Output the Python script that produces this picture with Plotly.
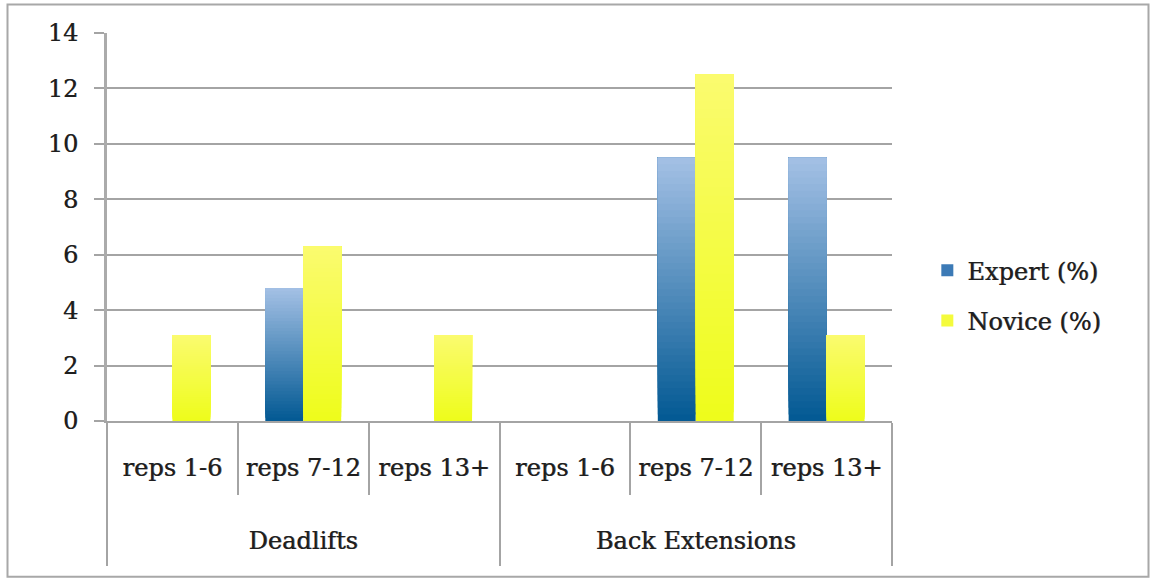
import plotly.graph_objects as go

# Exercise groups and rep ranges (two-level category axis)
exercises = ["Deadlifts"] * 3 + ["Back Extensions"] * 3
rep_ranges = ["reps 1-6", "reps 7-12", "reps 13+"] * 2

# Share of participants (%)
expert_pct = [0, 4.8, 0, 0, 9.5, 9.5]
novice_pct = [3.1, 6.3, 3.1, 0, 12.5, 3.1]

y_ticks = [0, 2, 4, 6, 8, 10, 12, 14]

FONT = "DejaVu Serif"
TEXT = "#1e1e1e"
GRID = "#a4a4a4"
FS = 24
SHADOW = "0.7px 0px 0.5px rgba(30,30,30,0.7)"

# vertical gradient end colours (bottom, top)
expert_grad = ((4, 90, 148), (166, 194, 230))
novice_grad = ((238, 252, 28), (251, 251, 112))

N_STEPS = 40


def mix(c0, c1, t):
    return "rgb({},{},{})".format(*[round(a + (b - a) * t) for a, b in zip(c0, c1)])


def padded(text, px):
    # tall blank glyphs on both sides enlarge the label box without moving the text
    sp = "<span style='font-size:{}px'>&nbsp;</span>".format(px)
    return sp + text + sp


# deeper rep-range labels push the exercise row down; deeper exercise labels
# stretch the group dividers
rep_labels = [padded(r, 82) for r in rep_ranges]
group_labels = [padded(g, 68) for g in exercises]
xcats = [group_labels, rep_labels]

fig = go.Figure()


def add_gradient_bars(name, values, grad, legend_color, group):
    # legend swatch only
    fig.add_trace(go.Bar(
        x=xcats, y=[None] * len(values), name=name,
        offsetgroup=group, legendgroup=group, marker=dict(color=legend_color, line_width=0),
        showlegend=True, hoverinfo="skip",
    ))
    # stacked layers from the bottom upwards; each layer spans to the bar top,
    # so the next one painted over it leaves a smooth vertical gradient
    for k in range(N_STEPS):
        t = k / N_STEPS
        fig.add_trace(go.Bar(
            x=xcats,
            y=[v * (1 - t) for v in values],
            base=[v * t for v in values],
            offsetgroup=group, legendgroup=group, showlegend=False,
            marker=dict(color=mix(grad[0], grad[1], t), line_width=0),
            hoverinfo="skip",
        ))


add_gradient_bars("Expert (%)", expert_pct, expert_grad, "rgb(60,122,182)", "expert")
add_gradient_bars("Novice (%)", novice_pct, novice_grad, "rgb(244,251,60)", "novice")

L, R, T, B = 107, 258, 33, 157.5
W, H = 1150, 579

font = dict(family=FONT, size=FS, color=TEXT, shadow=SHADOW)

fig.update_layout(
    width=W, height=H,
    margin=dict(l=L, r=R, t=T, b=B, pad=0, autoexpand=False),
    paper_bgcolor="white", plot_bgcolor="white",
    barmode="group", bargap=0.42, bargroupgap=0,
    font=font,
    legend=dict(
        x=1.045, xanchor="left", y=0.323, yanchor="middle",
        font=font, tracegroupgap=16, bgcolor="rgba(0,0,0,0)",
    ),
    showlegend=True,
    xaxis=dict(
        type="multicategory", automargin=False, tickangle=0,
        showline=True, linecolor=GRID, linewidth=2,
        ticks="outside", tickson="boundaries", ticklen=72, tickcolor=GRID, tickwidth=2,
        ticklabelstandoff=24,
        showdividers=True, dividercolor=GRID, dividerwidth=2,
        tickfont=font,
        showgrid=False,
    ),
    yaxis=dict(
        range=[0, 14], tickvals=y_ticks, automargin=False,
        showgrid=True, gridcolor=GRID, gridwidth=2,
        zeroline=False,
        showline=True, linecolor="#ababab", linewidth=3,
        ticks="outside", ticklen=10, tickcolor=GRID, tickwidth=2,
        ticklabelstandoff=11,
        tickfont=font,
    ),
)

# outer frame around the whole chart
pw, ph = W - L - R, H - T - B
fig.add_shape(
    type="rect", xref="paper", yref="paper",
    x0=(7.5 - L) / pw, x1=(1148.5 - L) / pw,
    y0=(H - B - 577.5) / ph, y1=(H - B - 4.5) / ph,
    line=dict(color="#a8a8a8", width=2), fillcolor="rgba(0,0,0,0)", layer="below",
)

fig.write_html("out.html")
